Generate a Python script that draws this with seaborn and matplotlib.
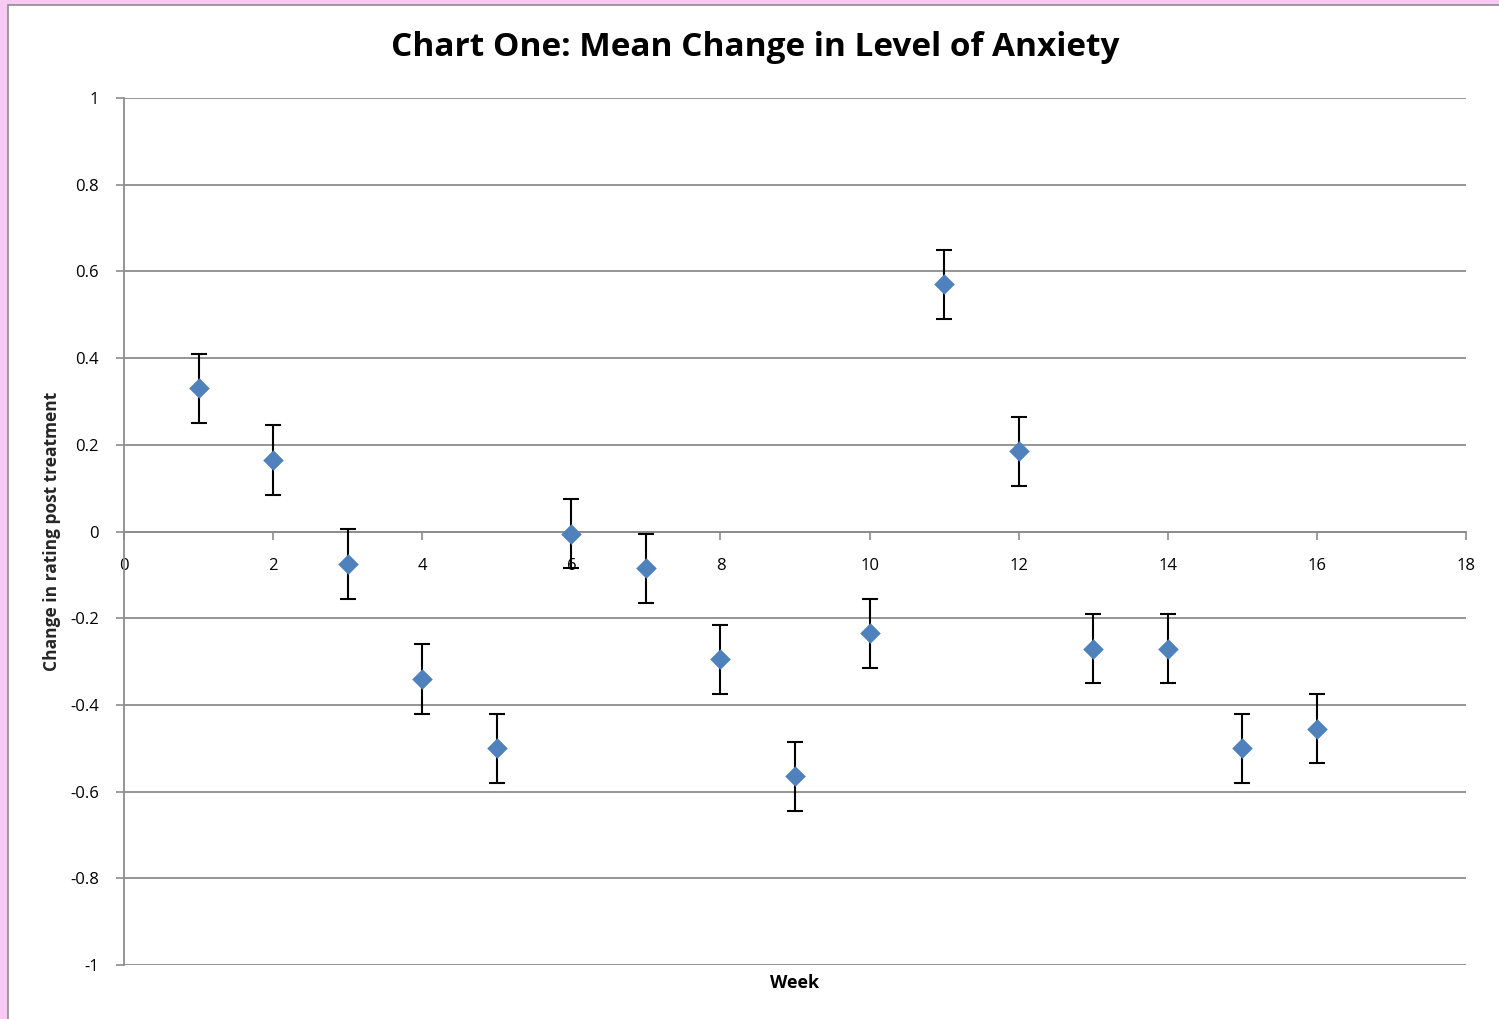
import numpy as np
import pandas as pd
import matplotlib
matplotlib.use('Agg')
import matplotlib.pyplot as plt
from matplotlib.patches import Rectangle
import seaborn as sns

# Weekly mean change in anxiety rating
weeks = [1, 2, 3, 4, 5, 6, 7, 8, 9, 10, 11, 12, 13, 14, 15, 16]
mean_change = [0.33, 0.165, -0.075, -0.34, -0.50, -0.005, -0.085, -0.295,
               -0.565, -0.235, 0.57, 0.185, -0.27, -0.27, -0.50, -0.455]
error = [0.08] * 16

y_ticks = [-1, -0.8, -0.6, -0.4, -0.2, 0, 0.2, 0.4, 0.6, 0.8, 1]
x_ticks = [0, 2, 4, 6, 8, 10, 12, 14, 16, 18]

df = pd.DataFrame({'week': weeks, 'change': mean_change, 'err': error})

sns.set_style('white')
plt.rcParams['font.family'] = ['Open Sans', 'DejaVu Sans']
plt.rcParams['text.color'] = 'black'
plt.rcParams['xtick.color'] = 'black'
plt.rcParams['ytick.color'] = 'black'

fig = plt.figure(figsize=(14.99, 10.19), dpi=100)
fig.patch.set_facecolor('#f7c9f3')

# white chart area with grey frame, running off the right and bottom edges
frame = Rectangle((8 / 1499, -0.01), 1.0, 1 - 5 / 1019 + 0.01,
                  transform=fig.transFigure, facecolor='white',
                  edgecolor='#8c8c8c', linewidth=1.2, zorder=-10)
fig.add_artist(frame)

ax = fig.add_axes([124 / 1499, 1 - 965 / 1019, (1466 - 124) / 1499, (965 - 98) / 1019])
ax.set_facecolor('none')

ax.errorbar(df['week'], df['change'], yerr=df['err'], fmt='none',
            ecolor='black', elinewidth=1.5, capsize=6, capthick=1.5, zorder=3)
sns.scatterplot(data=df, x='week', y='change', marker='D', s=110,
                color='#4f81bd', edgecolor='#4f81bd', linewidth=0, ax=ax, zorder=4)

ax.set_xlim(0, 18)
ax.set_ylim(-1, 1)
ax.set_yticks(y_ticks)
ax.set_yticklabels(['-1', '-0.8', '-0.6', '-0.4', '-0.2', '0', '0.2', '0.4', '0.6', '0.8', '1'])
ax.set_xticks(x_ticks)
ax.set_xticklabels([str(t) for t in x_ticks])

# horizontal gridlines
for t in y_ticks:
    ax.axhline(t, color='#8c8c8c', linewidth=1.3, zorder=1)

# x axis sits at zero
ax.spines['bottom'].set_position(('data', 0))
ax.spines['bottom'].set_color('#8c8c8c')
ax.spines['bottom'].set_linewidth(1.3)
ax.spines['left'].set_color('#8c8c8c')
ax.spines['left'].set_linewidth(1.3)
ax.spines['top'].set_visible(False)
ax.spines['right'].set_visible(False)

ax.tick_params(axis='x', direction='out', length=6, color='#8c8c8c', width=1.2,
               labelsize=12, pad=13, bottom=True, labelcolor='black')
ax.tick_params(axis='y', direction='out', length=6, color='#8c8c8c', width=1.2,
               labelsize=12, pad=12, left=True, labelcolor='black')

ax.set_xlabel('')
ax.set_ylabel('Change in rating post treatment', fontsize=12.5, fontweight='bold')
ax.yaxis.set_label_coords(-0.047, 0.5)

fig.text(795 / 1499, 1 - 983 / 1019, 'Week', fontsize=13, fontweight='bold',
         ha='center', va='center')
fig.text(755 / 1499, 1 - 47 / 1019, 'Chart One: Mean Change in Level of Anxiety',
         fontsize=24, fontweight='bold', ha='center', va='center')

fig.savefig('out.png', dpi=100, facecolor=fig.get_facecolor())
